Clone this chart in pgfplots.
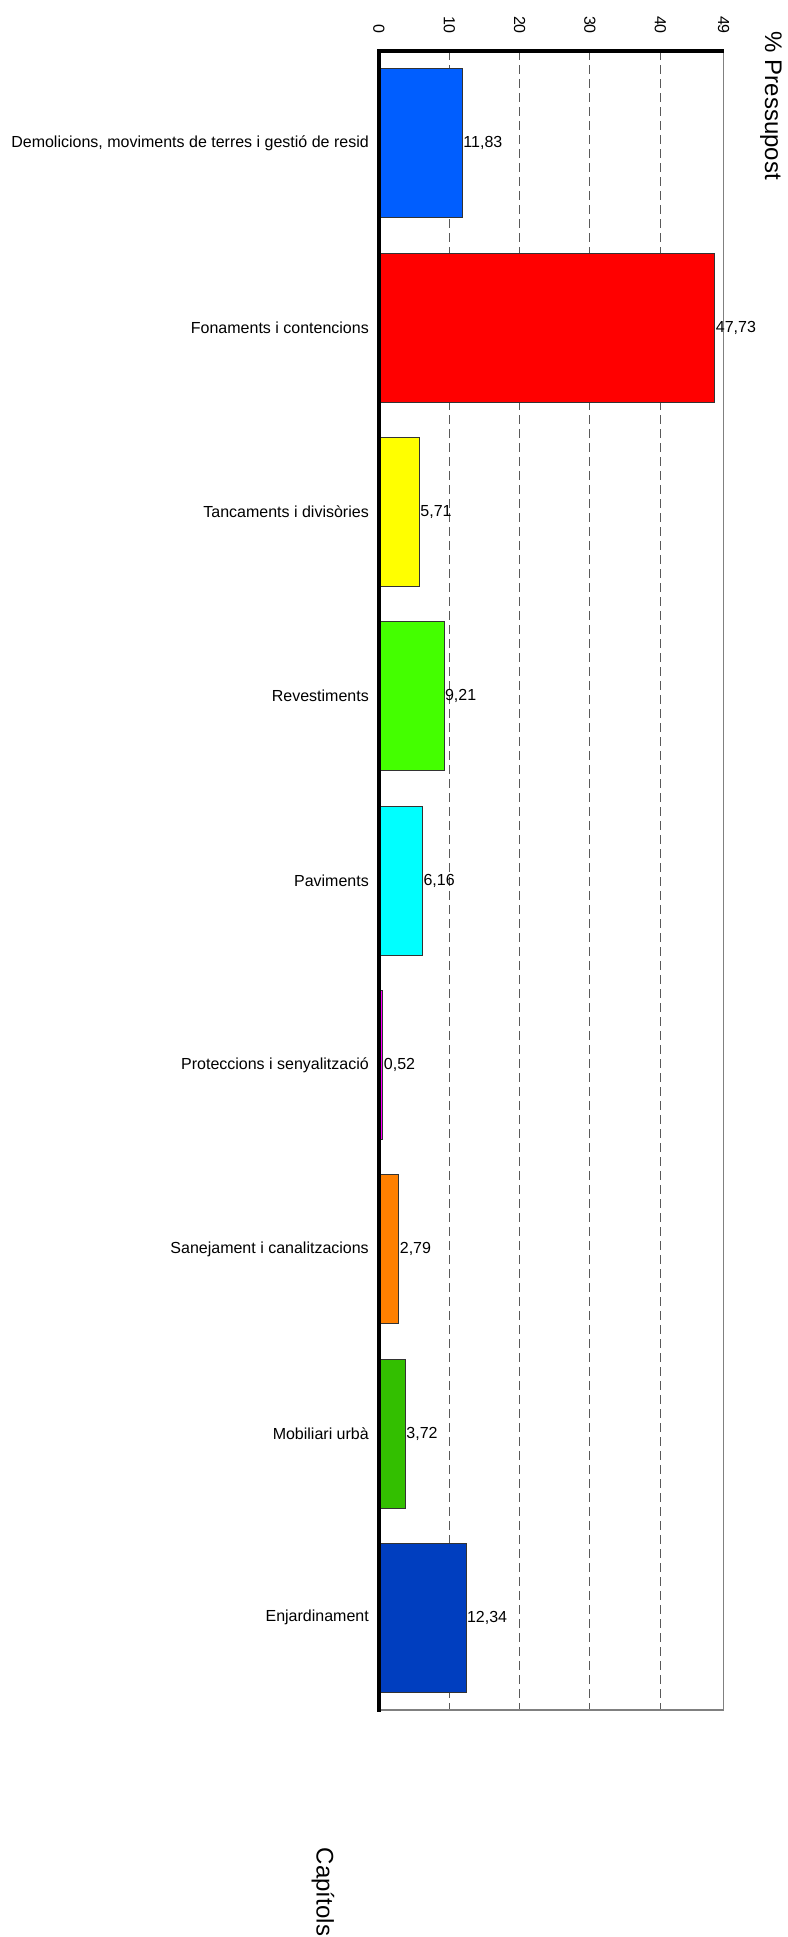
\documentclass[border=0pt]{standalone}
\usepackage{fontspec}
\setmainfont{Liberation Sans}
\usepackage{pgfplots}
\pgfplotsset{compat=1.18}

\definecolor{c1}{HTML}{005EFF}
\definecolor{c2}{HTML}{FF0000}
\definecolor{c3}{HTML}{FFFF00}
\definecolor{c4}{HTML}{44FF00}
\definecolor{c5}{HTML}{00FFFF}
\definecolor{c6}{HTML}{FF00FF}
\definecolor{c7}{HTML}{FF8000}
\definecolor{c8}{HTML}{33BF00}
\definecolor{c9}{HTML}{003EBF}

\pgfplotsset{onebar/.style={xbar, bar shift=0pt, bar width=149pt,
    fill=#1, draw=black!80, line width=0.5pt}}

\begin{document}
\begin{tikzpicture}[x=1pt,y=1pt]
\useasboundingbox (0,0) rectangle (787,1937);
\begin{axis}[
    name=ax,
    at={(379pt,227pt)}, anchor=south west,
    scale only axis,
    width=344.6pt, height=1659pt,
    y dir=reverse,
    xmin=0, xmax=49,
    ymin=-0.5, ymax=8.5,
    xtick={0,10,20,30,40,49},
    ytick={0,...,8},
    yticklabels={{Demolicions, moviments de terres i gestió de resid},
        Fonaments i contencions, Tancaments i divisòries, Revestiments,
        Paviments, Proteccions i senyalització, Sanejament i canalitzacions,
        Mobiliari urbà, Enjardinament},
    xticklabel pos=top,
    major tick length=0pt,
    xmajorgrids,
    grid style={black!65, dash pattern=on 9pt off 5pt, line width=1pt},
    axis line style={black!50, line width=1.2pt},
    tick label style={font=\fontsize{16}{19}\selectfont,
        /pgf/number format/assume math mode=true},
    xticklabel style={rotate=-90, anchor=east, inner sep=0pt},
    xticklabel shift=17pt,
    yticklabel style={anchor=east, inner sep=0pt},
    yticklabel shift=10pt,
    nodes near coords,
    point meta=explicit symbolic,
    every node near coord/.append style={font=\fontsize{16}{19}\selectfont,
        anchor=west, inner sep=1pt, black},
  ]
  \addplot[onebar=c1] coordinates {(11.83,0) [11,83]};
  \addplot[onebar=c2] coordinates {(47.73,1) [47,73]};
  \addplot[onebar=c3] coordinates {(5.71,2) [5,71]};
  \addplot[onebar=c4] coordinates {(9.21,3) [9,21]};
  \addplot[onebar=c5] coordinates {(6.16,4) [6,16]};
  \addplot[onebar=c6] coordinates {(0.52,5) [0,52]};
  \addplot[onebar=c7] coordinates {(2.79,6) [2,79]};
  \addplot[onebar=c8] coordinates {(3.72,7) [3,72]};
  \addplot[onebar=c9] coordinates {(12.34,8) [12,34]};
\end{axis}
\draw[black, line width=3.5pt] ([yshift=-2pt]ax.south west) -- (ax.north west) -- (ax.north east);
\node[rotate=-90, font=\fontsize{24}{28}\selectfont] at (771,1831) {\% Pressupost};
\node[rotate=-90, font=\fontsize{24}{28}\selectfont] at (323,45) {Capítols};
\end{tikzpicture}
\end{document}
